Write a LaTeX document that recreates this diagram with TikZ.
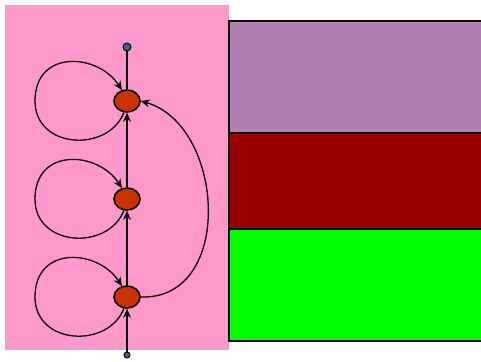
\documentclass[tikz,border=0pt]{standalone}
\usetikzlibrary{shapes.geometric,arrows.meta}
\definecolor{pinkbg}{HTML}{FF99CC}
\definecolor{purplebox}{HTML}{B180B3}
\definecolor{redbox}{HTML}{990000}
\definecolor{greenbox}{HTML}{00FF00}
\definecolor{statefill}{HTML}{CC3300}
\definecolor{dotfill}{HTML}{336699}
\begin{document}
\begin{tikzpicture}[x=1pt,y=-1pt,
  state/.style={ellipse,draw=black,line width=1.6pt,fill=statefill,minimum width=26pt,minimum height=22pt,inner sep=0pt},
  dot/.style={circle,draw=black,line width=1pt,fill=dotfill,minimum size=8pt,inner sep=0pt},
  smalldot/.style={circle,draw=black,line width=1pt,fill=dotfill,minimum size=6pt,inner sep=0pt},
  edge/.style={line width=1.3pt,-{Stealth[length=9pt,width=8pt]}},
  box/.style={draw=black,line width=1.6pt}]
\useasboundingbox (0,0) rectangle (481,361);
\fill[pinkbg] (5,5) rectangle (229,350);
\draw[box,fill=purplebox] (229,21) rectangle (495,133);
\draw[box,fill=redbox] (229,133) rectangle (495,229);
\draw[box,fill=greenbox] (229,229) rectangle (495,341);
\node[dot] (s) at (127,47) {};
\node[state] (n1) at (127,101) {};
\node[state] (n2) at (127,199) {};
\node[state] (n3) at (127,297) {};
\node[smalldot] (e) at (127,355) {};
\draw[line width=1.3pt] (s) -- (n1);
\draw[edge] (n2) -- (n1);
\draw[edge] (n3) -- (n2);
\draw[edge] (e) -- (n3);
\foreach \n/\y in {n1/101,n2/199,n3/297}{
  \draw[edge] (\n.255) .. controls (108,\y+52) and (35,\y+48) .. (35,\y) .. controls (35,\y-52) and (98,\y-48) .. (\n.115);
}
\draw[edge] (n3.east) .. controls (235,300) and (225,125) .. (n1.east);
\end{tikzpicture}
\end{document}
